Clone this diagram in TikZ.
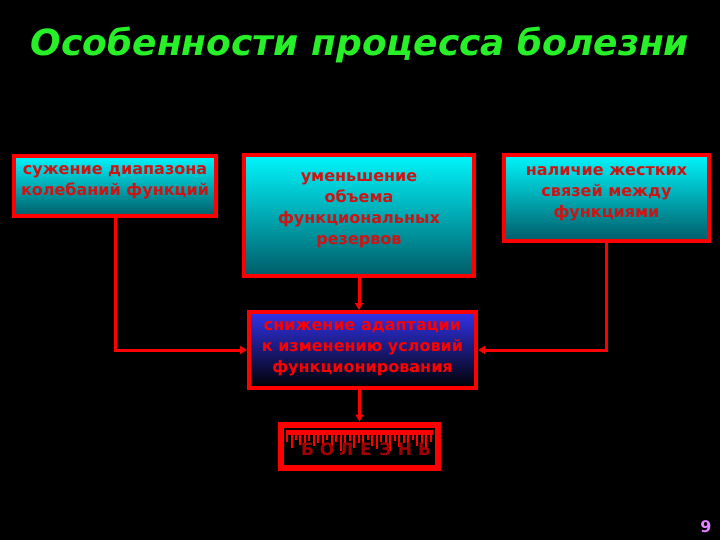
\documentclass[tikz,border=0pt]{standalone}
\usepackage{fontspec}
\setmainfont{DejaVu Sans}
\usetikzlibrary{arrows.meta}
\definecolor{txtred}{RGB}{205,20,20}
\definecolor{tealtop}{RGB}{0,245,252}
\definecolor{tealbot}{RGB}{0,92,104}
\definecolor{bluetop}{RGB}{50,50,235}
\definecolor{ttlgreen}{RGB}{40,240,40}
\definecolor{numviolet}{RGB}{225,130,255}
\definecolor{dropred}{RGB}{165,0,0}
\begin{document}
\begin{tikzpicture}[x=1pt,y=-1pt,
  box/.style={draw=red, line width=4pt, top color=tealtop, bottom color=tealbot, inner sep=0pt},
  bluebox/.style={draw=red, line width=4pt, top color=bluetop, bottom color=black, inner sep=0pt},
  boxtext/.style={text=txtred, align=center, inner sep=0pt, font=\bfseries\fontsize{16}{21}\selectfont},
  conn/.style={draw=red, line width=3pt, -{Triangle[length=7pt,width=8pt]}}]
\fill[black] (0,0) rectangle (720,540);
\useasboundingbox (0,0) rectangle (720,540);

\node[text=ttlgreen, font=\bfseries\itshape\fontsize{36}{42}\selectfont] (title) at (360,45) {Особенности процесса болезни};

\node[box, minimum width=202pt, minimum height=60pt] (b1) at (115,186) {};
\node[boxtext] (t1) at (115,182) {сужение диапазона\\колебаний функций};

\node[box, minimum width=230pt, minimum height=121pt] (b2) at (359,215.5) {};
\node[boxtext] (t2) at (359,210) {уменьшение\\объема\\функциональных\\резервов};

\node[box, minimum width=205pt, minimum height=86pt] (b4) at (606.5,198) {};
\node[boxtext] (t4) at (606.5,194) {наличие жестких\\связей между\\функциями};

\node[bluebox, minimum width=227pt, minimum height=76pt] (b3) at (362.5,350) {};
\node[boxtext, text=red] (t3) at (362.5,349) {снижение адаптации\\к изменению условий\\функционирования};

\node[draw=red, fill=black, line width=6pt, minimum width=157pt, minimum height=43pt, inner sep=0pt] (b5) at (359.5,446) {};
\fill[red] (286,430) rectangle (433,435);
\foreach \dx/\len in {0/8,5/14,9/6,13/11,18/16,22/7,27/12,31/9,36/15,40/6,45/13,49/8,54/17,58/10,63/7,67/14,72/9,76/16,81/6,85/12,90/15,94/8,99/11,103/17,108/7,112/13,117/9,121/15,126/6,130/12,135/10,139/16,144/8}
  \draw[red, line width=1.3pt] (287+\dx,434) -- (287+\dx,434+\len);
\foreach \ch [count=\i] in {Б,О,Л,Е,З,Н,Ь}
  \node[text=dropred, font=\bfseries\fontsize{17}{20}\selectfont, inner sep=0pt] (L\i) at (288+\i*19.5,449) {\ch};

\draw[conn] (b1.south) |- (b3.west);
\draw[conn] (b4.south) |- (b3.east);
\draw[conn] (b2.south) -- (b2.south |- b3.north);
\draw[conn] (b5.north |- b3.south) -- (b5.north);

\node[text=numviolet, font=\bfseries\fontsize{16}{18}\selectfont] (num) at (706,527) {9};
\end{tikzpicture}
\end{document}
